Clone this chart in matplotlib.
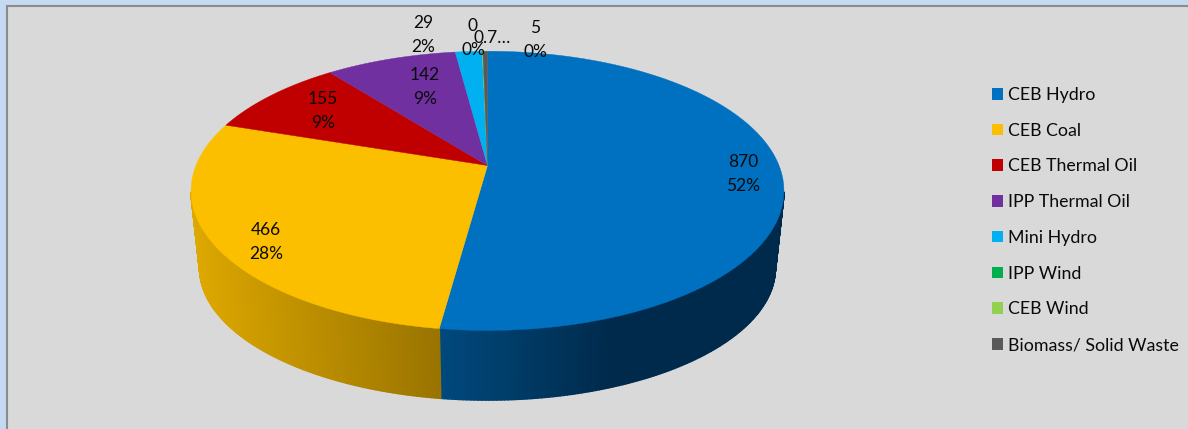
import numpy as np
import matplotlib
matplotlib.use("Agg")
import matplotlib.pyplot as plt
from matplotlib.patches import Rectangle, Patch
from matplotlib.collections import PolyCollection

plt.rcParams['font.family'] = ['Lato', 'DejaVu Sans']

categories = ['CEB Hydro', 'CEB Coal', 'CEB Thermal Oil', 'IPP Thermal Oil',
              'Mini Hydro', 'IPP Wind', 'CEB Wind', 'Biomass/ Solid Waste']
values = [870, 466, 155, 142, 29, 0, 0.7, 5]
colors = ['#0070C0', '#FCBF00', '#C00000', '#7030A0', '#00B0F0', '#00B050', '#92D050', '#595959']
value_labels = ['870', '466', '155', '142', '29', '0', '0.7…', '5']
pct_labels = ['52%', '28%', '9%', '9%', '2%', '0%', '', '0%']
label_x = [743, 266, 323, 425, 423, 473, 492, 535]
label_y = [162, 230, 99, 75, 23, 26, 38, 28]

W, H = 1188, 429
fig = plt.figure(figsize=(W / 100, H / 100), dpi=100, facecolor='#C5D9F1')
ax = fig.add_axes([0, 0, 1, 1])
ax.set_xlim(0, W)
ax.set_ylim(H, 0)
ax.axis('off')
ax.add_patch(Rectangle((7, 6), W, H, facecolor='#D9D9D9', edgecolor='#8C8C8C', lw=1.5))

K = 0.1815
CX = 487.5
APEX_Y = 165.5


def rim(theta, apex_y, a, b):
    u, v = np.sin(theta), np.cos(theta)
    d = 1 + K * v
    return CX + b * u / d, apex_y + a * (-v) / d


def top(theta):
    return rim(theta, APEX_Y, 135, 291.5)


def low(theta):
    return rim(theta, 244, 127.7, 283)


vals = np.array(values, float)
edges = np.concatenate([[0], np.cumsum(vals)]) / vals.sum() * 2 * np.pi

# side walls of the two wedges that face the viewer
seam = top(edges[1])[0]
wall = {0: (np.deg2rad(101), edges[1], '#004A7E', '#002A4C', 170),
        1: (edges[1], np.deg2rad(259), '#9A7400', '#DDA800', 240)}
for i, (start, end, c0, c1, span) in wall.items():
    th = np.linspace(start, end, 140)
    tx, ty = top(th)
    lx, ly = low(th)
    ca, cb = np.array(matplotlib.colors.to_rgb(c0)), np.array(matplotlib.colors.to_rgb(c1))
    polys, cols = [], []
    for j in range(len(th) - 1):
        polys.append([(tx[j], ty[j]), (tx[j + 1], ty[j + 1]), (lx[j + 1], ly[j + 1]), (lx[j], ly[j])])
        f = np.clip(abs(lx[j] - seam) / span, 0, 1)
        cols.append(ca + (cb - ca) * f)
    ax.add_collection(PolyCollection(polys, facecolors=cols, edgecolors=cols, linewidths=1.2))

# top surface
for i, col in enumerate(colors):
    if vals[i] == 0:
        continue
    th = np.linspace(edges[i], edges[i + 1], max(3, int(vals[i] / 2)))
    x, y = top(th)
    ax.fill(np.r_[CX, x], np.r_[APEX_Y, y], facecolor=col, edgecolor=col, lw=0.3)

for vl, pl, x, y in zip(value_labels, pct_labels, label_x, label_y):
    ax.text(x, y, vl, ha='center', va='center', fontsize=12.5, color='#0A0A0A')
    if pl:
        ax.text(x, y + 24, pl, ha='center', va='center', fontsize=12.5, color='#0A0A0A')

handles = [Patch(facecolor=c, edgecolor='none') for c in colors]
leg = ax.legend(handles, categories, loc='upper left', bbox_to_anchor=(992 / W, 1 - 87 / H),
                frameon=False, fontsize=12.8, labelspacing=1.11, handlelength=0.62, handleheight=0.62,
                handletextpad=0.3, borderpad=0, borderaxespad=0, labelcolor='#0A0A0A')

fig.savefig('out.png', dpi=100, facecolor=fig.get_facecolor())
